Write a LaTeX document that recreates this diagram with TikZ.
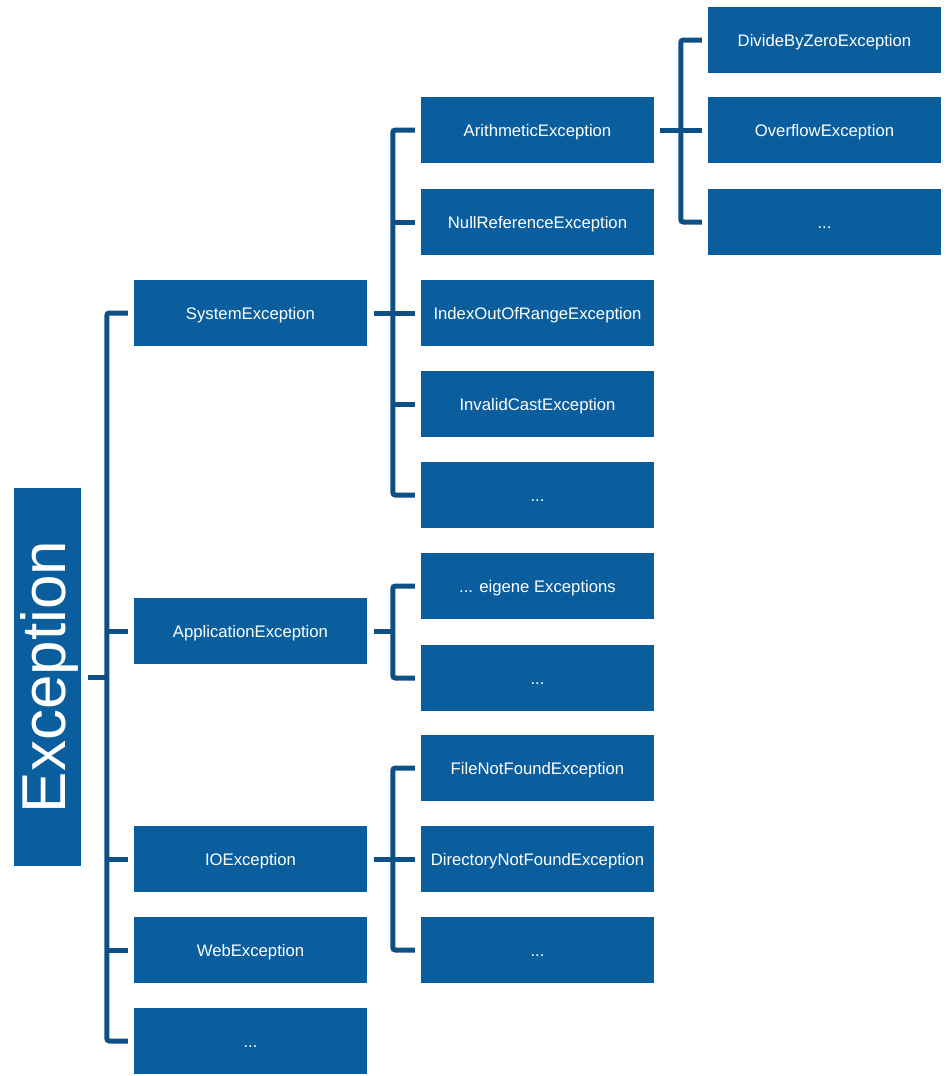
\documentclass[tikz,border=0pt]{standalone}
\usepackage{fontspec}
\setmainfont{Liberation Sans}
\definecolor{boxblue}{RGB}{10,94,158}
\definecolor{lineblue}{RGB}{14,80,133}
\begin{document}
\begin{tikzpicture}[x=1pt,y=-1pt,
  exbox/.style={fill=boxblue, text=white, inner sep=0pt, minimum width=233pt, minimum height=66pt, text height=15pt, text depth=3pt, font=\fontsize{16.7}{20}\selectfont},
  conn/.style={draw=lineblue, line width=5pt},
  trunk/.style={draw=lineblue, line width=5pt, rounded corners=2.5pt}]
\useasboundingbox (0,0) rectangle (949,1076);
% root
\node[fill=boxblue, text=white, inner sep=0pt, minimum width=67pt, minimum height=378pt] (root) at (47,677) {};
\node[text=white, rotate=90, font=\fontsize{62}{70}\selectfont, inner sep=0pt] (roottext) at (49,677) {Exception};
% level 1
\node[exbox] (sys) at (250.5,313) {SystemException};
\node[exbox] (app) at (250.5,631) {ApplicationException};
\node[exbox] (io) at (250.5,859) {IOException};
\node[exbox] (web) at (250.5,950) {WebException};
\node[exbox] (l1e) at (250.5,1041) {...};
% level 2
\node[exbox] (ari) at (537.5,130) {ArithmeticException};
\node[exbox] (nul) at (537.5,222) {NullReferenceException};
\node[exbox] (idx) at (537.5,313) {IndexOutOfRangeException};
\node[exbox] (cast) at (537.5,404) {InvalidCastException};
\node[exbox] (se) at (537.5,495) {...};
\node[exbox] (own) at (537.5,586) {... eigene Exceptions};
\node[exbox] (ae) at (537.5,678) {...};
\node[exbox] (fnf) at (537.5,768) {FileNotFoundException};
\node[exbox] (dnf) at (537.5,859) {DirectoryNotFoundException};
\node[exbox] (ioe) at (537.5,950) {...};
% level 3
\node[exbox] (div) at (824.5,40) {DivideByZeroException};
\node[exbox] (ovf) at (824.5,130) {OverflowException};
\node[exbox] (are) at (824.5,222) {...};
% trunk coordinates
\coordinate (t1) at ([xshift=-27pt]sys.west);
\coordinate (t2) at ([xshift=-28pt]ari.west);
\coordinate (t3) at ([xshift=-27pt]div.west);
% level 1 connectors
\draw[conn] ([xshift=7pt]root.east) -- (t1 |- root.east);
\draw[trunk] ([xshift=-6pt]sys.west) -| ([xshift=-27pt]l1e.west) -- ([xshift=-6pt]l1e.west);
\foreach \n in {app,io,web} \draw[conn] ([xshift=-27pt]\n.west) -- ([xshift=-6pt]\n.west);
% SystemException children
\draw[conn] ([xshift=7pt]sys.east) -- (t2 |- sys.east);
\draw[trunk] ([xshift=-6pt]ari.west) -| ([xshift=-28pt]se.west) -- ([xshift=-6pt]se.west);
\foreach \n in {nul,idx,cast} \draw[conn] ([xshift=-28pt]\n.west) -- ([xshift=-6pt]\n.west);
% ApplicationException children
\draw[conn] ([xshift=7pt]app.east) -- (t2 |- app.east);
\draw[trunk] ([xshift=-6pt]own.west) -| ([xshift=-28pt]ae.west) -- ([xshift=-6pt]ae.west);
% IOException children
\draw[conn] ([xshift=7pt]io.east) -- (t2 |- io.east);
\draw[trunk] ([xshift=-6pt]fnf.west) -| ([xshift=-28pt]ioe.west) -- ([xshift=-6pt]ioe.west);
\draw[conn] ([xshift=-28pt]dnf.west) -- ([xshift=-6pt]dnf.west);
% ArithmeticException children
\draw[conn] ([xshift=6pt]ari.east) -- (t3 |- ari.east);
\draw[trunk] ([xshift=-6pt]div.west) -| ([xshift=-27pt]are.west) -- ([xshift=-6pt]are.west);
\draw[conn] ([xshift=-27pt]ovf.west) -- ([xshift=-6pt]ovf.west);
\end{tikzpicture}
\end{document}
